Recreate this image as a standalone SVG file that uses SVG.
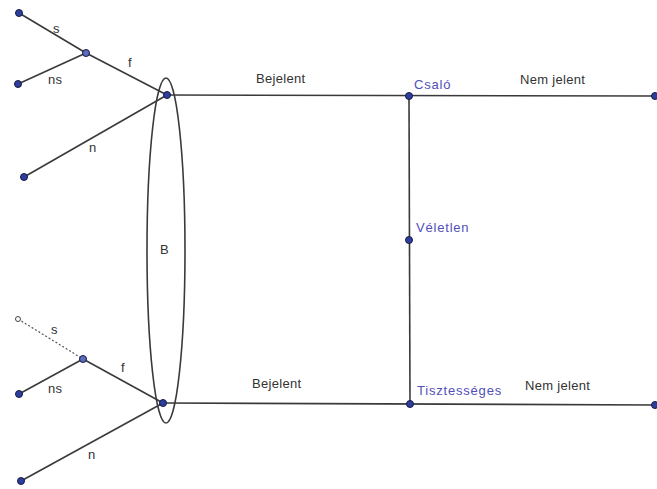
<svg xmlns="http://www.w3.org/2000/svg" width="657" height="489" viewBox="0 0 657 489">
<style>
.e{stroke:#3a3a3a;stroke-width:1.6;fill:none}
.d{stroke:#555;stroke-width:1.2;stroke-dasharray:2,2;fill:none}
.n{fill:#2c3f9e;stroke:#1a1a40;stroke-width:1}
.m{fill:#5a6cc0;stroke:#1a1a40;stroke-width:1}
.o{fill:#fff;stroke:#444;stroke-width:1}
.t{font-family:"Liberation Sans",Arial,sans-serif;font-size:13px;fill:#333;letter-spacing:0.3px}
.b{font-family:"Liberation Sans",Arial,sans-serif;font-size:13px;fill:#5050b8;letter-spacing:0.8px}
</style>
<rect width="657" height="489" fill="#fff"/>
<g id="connectors">
<line class="e" x1="19" y1="13" x2="86" y2="53"/>
<line class="e" x1="18" y1="84" x2="86" y2="53"/>
<line class="e" x1="86" y1="53" x2="167" y2="95"/>
<line class="e" x1="24" y1="177" x2="167" y2="95"/>
<line class="e" x1="167" y1="95" x2="655" y2="96"/>
<line class="d" x1="18" y1="319" x2="83" y2="359"/>
<line class="e" x1="19" y1="394" x2="83" y2="359"/>
<line class="e" x1="83" y1="359" x2="163" y2="403"/>
<line class="e" x1="21" y1="481" x2="163" y2="403"/>
<line class="e" x1="163" y1="403" x2="655" y2="405"/>
<line class="e" x1="409" y1="96" x2="410" y2="404"/>
<ellipse class="e" cx="166" cy="250.5" rx="19" ry="172.5"/>
</g>
<g id="labels">
<text class="t" x="53" y="33">s</text>
<text class="t" x="48" y="84">ns</text>
<text class="t" x="128" y="67">f</text>
<text class="t" x="89" y="152">n</text>
<text class="t" x="51" y="334">s</text>
<text class="t" x="48" y="393">ns</text>
<text class="t" x="121" y="372">f</text>
<text class="t" x="88" y="459">n</text>
<text class="t" x="160" y="254">B</text>
<text class="t" x="256" y="83">Bejelent</text>
<text class="t" x="252" y="388">Bejelent</text>
<text class="t" x="520" y="84">Nem jelent</text>
<text class="t" x="525" y="390">Nem jelent</text>
</g>
<g id="node-s1"><circle class="n" cx="19" cy="13" r="3.5"/></g>
<g id="node-ns1"><circle class="n" cx="18" cy="84" r="3.5"/></g>
<g id="node-mid1"><circle class="m" cx="86" cy="53" r="3.5"/></g>
<g id="node-n1"><circle class="n" cx="24" cy="177" r="3.5"/></g>
<g id="node-b1"><circle class="n" cx="167" cy="95" r="3.5"/></g>
<g id="node-s2"><circle class="o" cx="18" cy="319" r="2.5"/></g>
<g id="node-ns2"><circle class="n" cx="19" cy="394" r="3.5"/></g>
<g id="node-mid2"><circle class="m" cx="83" cy="359" r="3.5"/></g>
<g id="node-n2"><circle class="n" cx="21" cy="481" r="3.5"/></g>
<g id="node-b2"><circle class="n" cx="163" cy="403" r="3.5"/></g>
<g id="node-csalo"><circle class="n" cx="409" cy="96" r="3.5"/><text class="b" x="414" y="89">Csaló</text></g>
<g id="node-veletlen"><circle class="n" cx="409" cy="240" r="3.5"/><text class="b" x="416" y="232">Véletlen</text></g>
<g id="node-tisztesseges"><circle class="n" cx="410" cy="404" r="3.5"/><text class="b" x="417" y="395">Tisztességes</text></g>
<g id="node-end1"><circle class="n" cx="655" cy="96" r="3.5"/></g>
<g id="node-end2"><circle class="n" cx="655" cy="405" r="3.5"/></g>
</svg>
